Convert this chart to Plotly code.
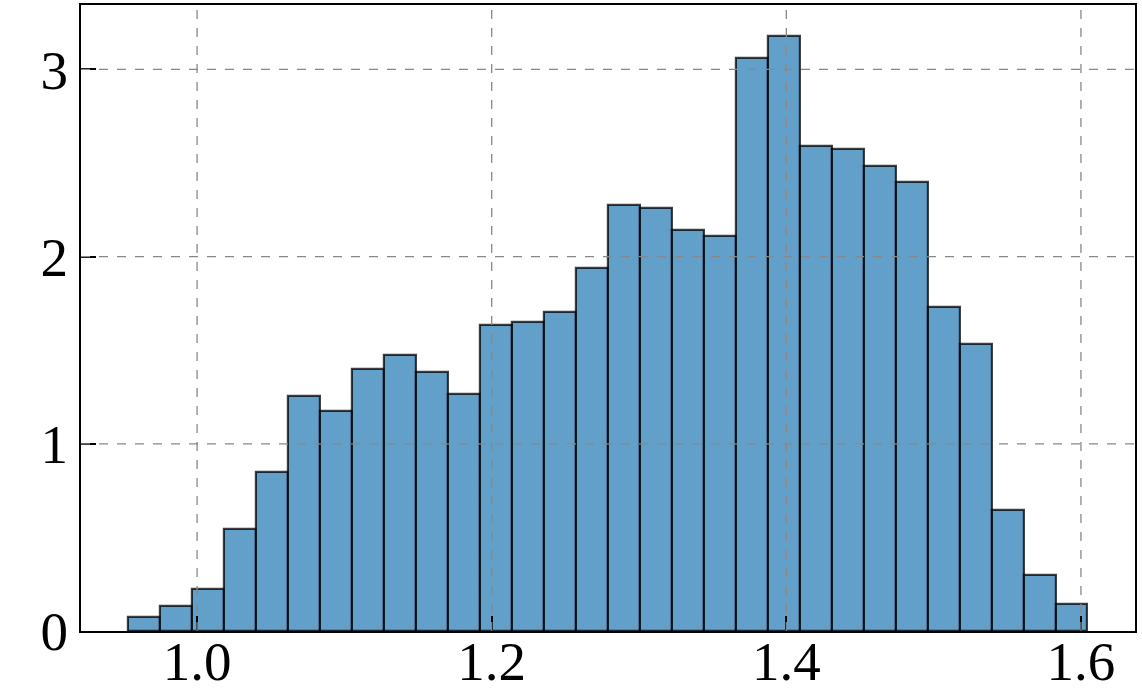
import plotly.graph_objects as go

bin_start = 0.9533
bin_width = 0.021705
densities = [0.077, 0.133, 0.227, 0.547, 0.848, 1.254, 1.177, 1.399, 1.476, 1.383,
             1.267, 1.635, 1.650, 1.706, 1.941, 2.276, 2.260, 2.141, 2.112, 3.059,
             3.176, 2.593, 2.577, 2.486, 2.397, 1.730, 1.531, 0.644, 0.301, 0.146]
x_ticks = [1.0, 1.2, 1.4, 1.6]
x_tick_labels = ["1.0", "1.2", "1.4", "1.6"]
y_ticks = [0, 1, 2, 3]
y_tick_labels = ["0", "1", "2", "3"]

left_edges = [bin_start + i * bin_width for i in range(len(densities))]

fig = go.Figure()
fig.add_trace(go.Bar(
    x=left_edges, y=densities, width=bin_width, offset=0,
    marker=dict(color="rgba(31,119,180,0.7)",
                line=dict(color="rgba(0,0,0,0.75)", width=2.2)),
    showlegend=False,
))

x_range = [0.9212, 1.6367]
y_range = [0, 3.344]

shapes = []
for xv in x_ticks:
    shapes.append(dict(type="line", xref="x", yref="paper", x0=xv, x1=xv, y0=0, y1=1,
                       line=dict(color="#888888", width=1.3, dash="dash"), layer="above"))
for yv in y_ticks[1:]:
    shapes.append(dict(type="line", xref="paper", yref="y", x0=0, x1=1, y0=yv, y1=yv,
                       line=dict(color="#888888", width=1.3, dash="dash"), layer="above"))

font = "Liberation Serif, Times New Roman, serif"
fig.update_layout(
    width=1142, height=693,
    margin=dict(l=81, r=7, t=5, b=62),
    plot_bgcolor="white", paper_bgcolor="white",
    bargap=0,
    shapes=shapes,
    xaxis=dict(range=x_range, tickvals=x_ticks, ticktext=x_tick_labels,
               showgrid=False, zeroline=False, automargin=False,
               showline=True, linecolor="black", linewidth=2, mirror=True,
               ticks="inside", ticklen=15, tickwidth=2, tickcolor="black",
               tickfont=dict(family=font, size=55, color="black"),
               ticklabelstandoff=-19,
               layer="above traces"),
    yaxis=dict(range=y_range, tickvals=y_ticks, ticktext=y_tick_labels,
               showgrid=False, zeroline=False, automargin=False,
               showline=True, linecolor="black", linewidth=2, mirror=True,
               ticks="inside", ticklen=15, tickwidth=2, tickcolor="black",
               tickfont=dict(family=font, size=55, color="black"),
               ticklabelstandoff=0,
               layer="above traces"),
)

fig.write_html("out.html", config={"displayModeBar": False},
               post_script="document.body.style.margin='0';document.body.style.padding='0';")
